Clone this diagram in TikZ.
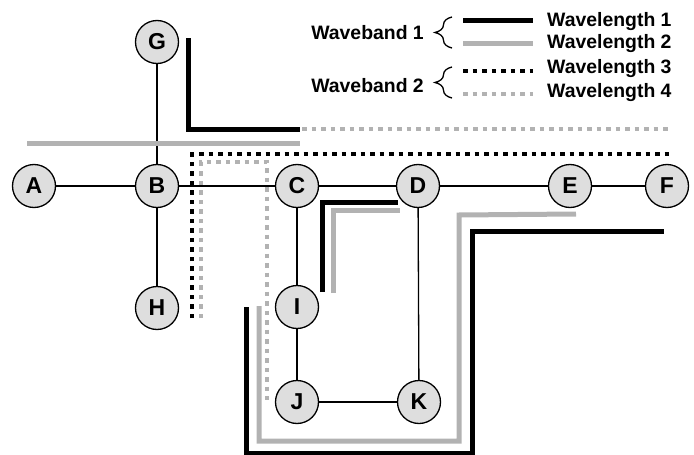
\documentclass[tikz,border=0pt]{standalone}
\usepackage{fontspec}
\setmainfont{Liberation Sans}
\newfontfamily\boldsans{Liberation Sans Bold}
\usetikzlibrary{decorations.pathreplacing}

\tikzset{stn/.style={circle,draw,fill=black!13,line width=1.3pt,minimum size=43pt,inner sep=0pt,font=\boldsans\fontsize{23}{23}\selectfont},
edge/.style={line width=1.3pt},
wa/.style={line width=5pt},wb/.style={line width=5pt,black!30},
wc/.style={line width=4.5pt,dash pattern=on 4.5pt off 5pt},wd/.style={line width=4.5pt,black!30,dash pattern=on 4.5pt off 5pt},
lbl/.style={inner sep=0pt,font=\boldsans\fontsize{19.4}{20}\selectfont}}

\begin{document}
\begin{tikzpicture}[x=1pt,y=-1pt]
\useasboundingbox(0,0)rectangle(694,455);
\node[stn](a)at(34,186){A};\node[stn](b)at(157,186){B};\node[stn](c)at(297,186){C};\node[stn](d)at(418,186){D};\node[stn](e)at(570,186){E};\node[stn](f)at(667,186){F};
\node[stn](g)at(157,42){G};\node[stn](h)at(157,308){H};\node[stn](i)at(297,307){I};\node[stn](j)at(297,402){J};\node[stn](k)at(419,402){K};
\draw[edge](a)--(b);\draw[edge](b)--(c);\draw[edge](c)--(d);\draw[edge](d)--(e);\draw[edge](e)--(f);
\draw[edge](g)--(b);\draw[edge](b)--(h);\draw[edge](c)--(i);\draw[edge](i)--(j);\draw[edge](j)--(k);\draw[edge](d)--(k);
\draw[wa](188,38)--(188,129)--(300,129);\draw[wd](302,129)--(672,129);
\draw[wb](27,143)--(300,143);
\draw[wc](192,318)--(192,154)--(672,154);\draw[wd](201,318)--(201,162)--(267,162)--(267,400);
\draw[wa](322,292)--(322,202)--(398,202);\draw[wb](333,293)--(333,210)--(400,210);
\draw[wa](246,307)--(246,453)--(472,453)--(472,231)--(664,231);
\draw[wb](259,306)--(259,441)--(459,441)--(459,215)--(576,214);
\draw[wa](463,20)--(533,20);\draw[wb](463,43)--(533,43);\draw[wc](463,71)--(533,71);\draw[wd](463,94)--(533,94);
\node[lbl,anchor=base west](l1)at(547,26){Wavelength 1};\node[lbl,anchor=base west](l2)at(547,48){Wavelength 2};
\node[lbl,anchor=base west](l3)at(547,73){Wavelength 3};\node[lbl,anchor=base west](l4)at(547,97){Wavelength 4};
\node[lbl,anchor=base east](b1)at(424,39){Waveband 1};\node[lbl,anchor=base east](b2)at(424,92){Waveband 2};
\draw[line width=1.3pt,decorate,decoration={brace,amplitude=17pt}](452,48)--(452,17);
\draw[line width=1.3pt,decorate,decoration={brace,amplitude=17pt}](452,98)--(452,67);
\end{tikzpicture}
\end{document}
